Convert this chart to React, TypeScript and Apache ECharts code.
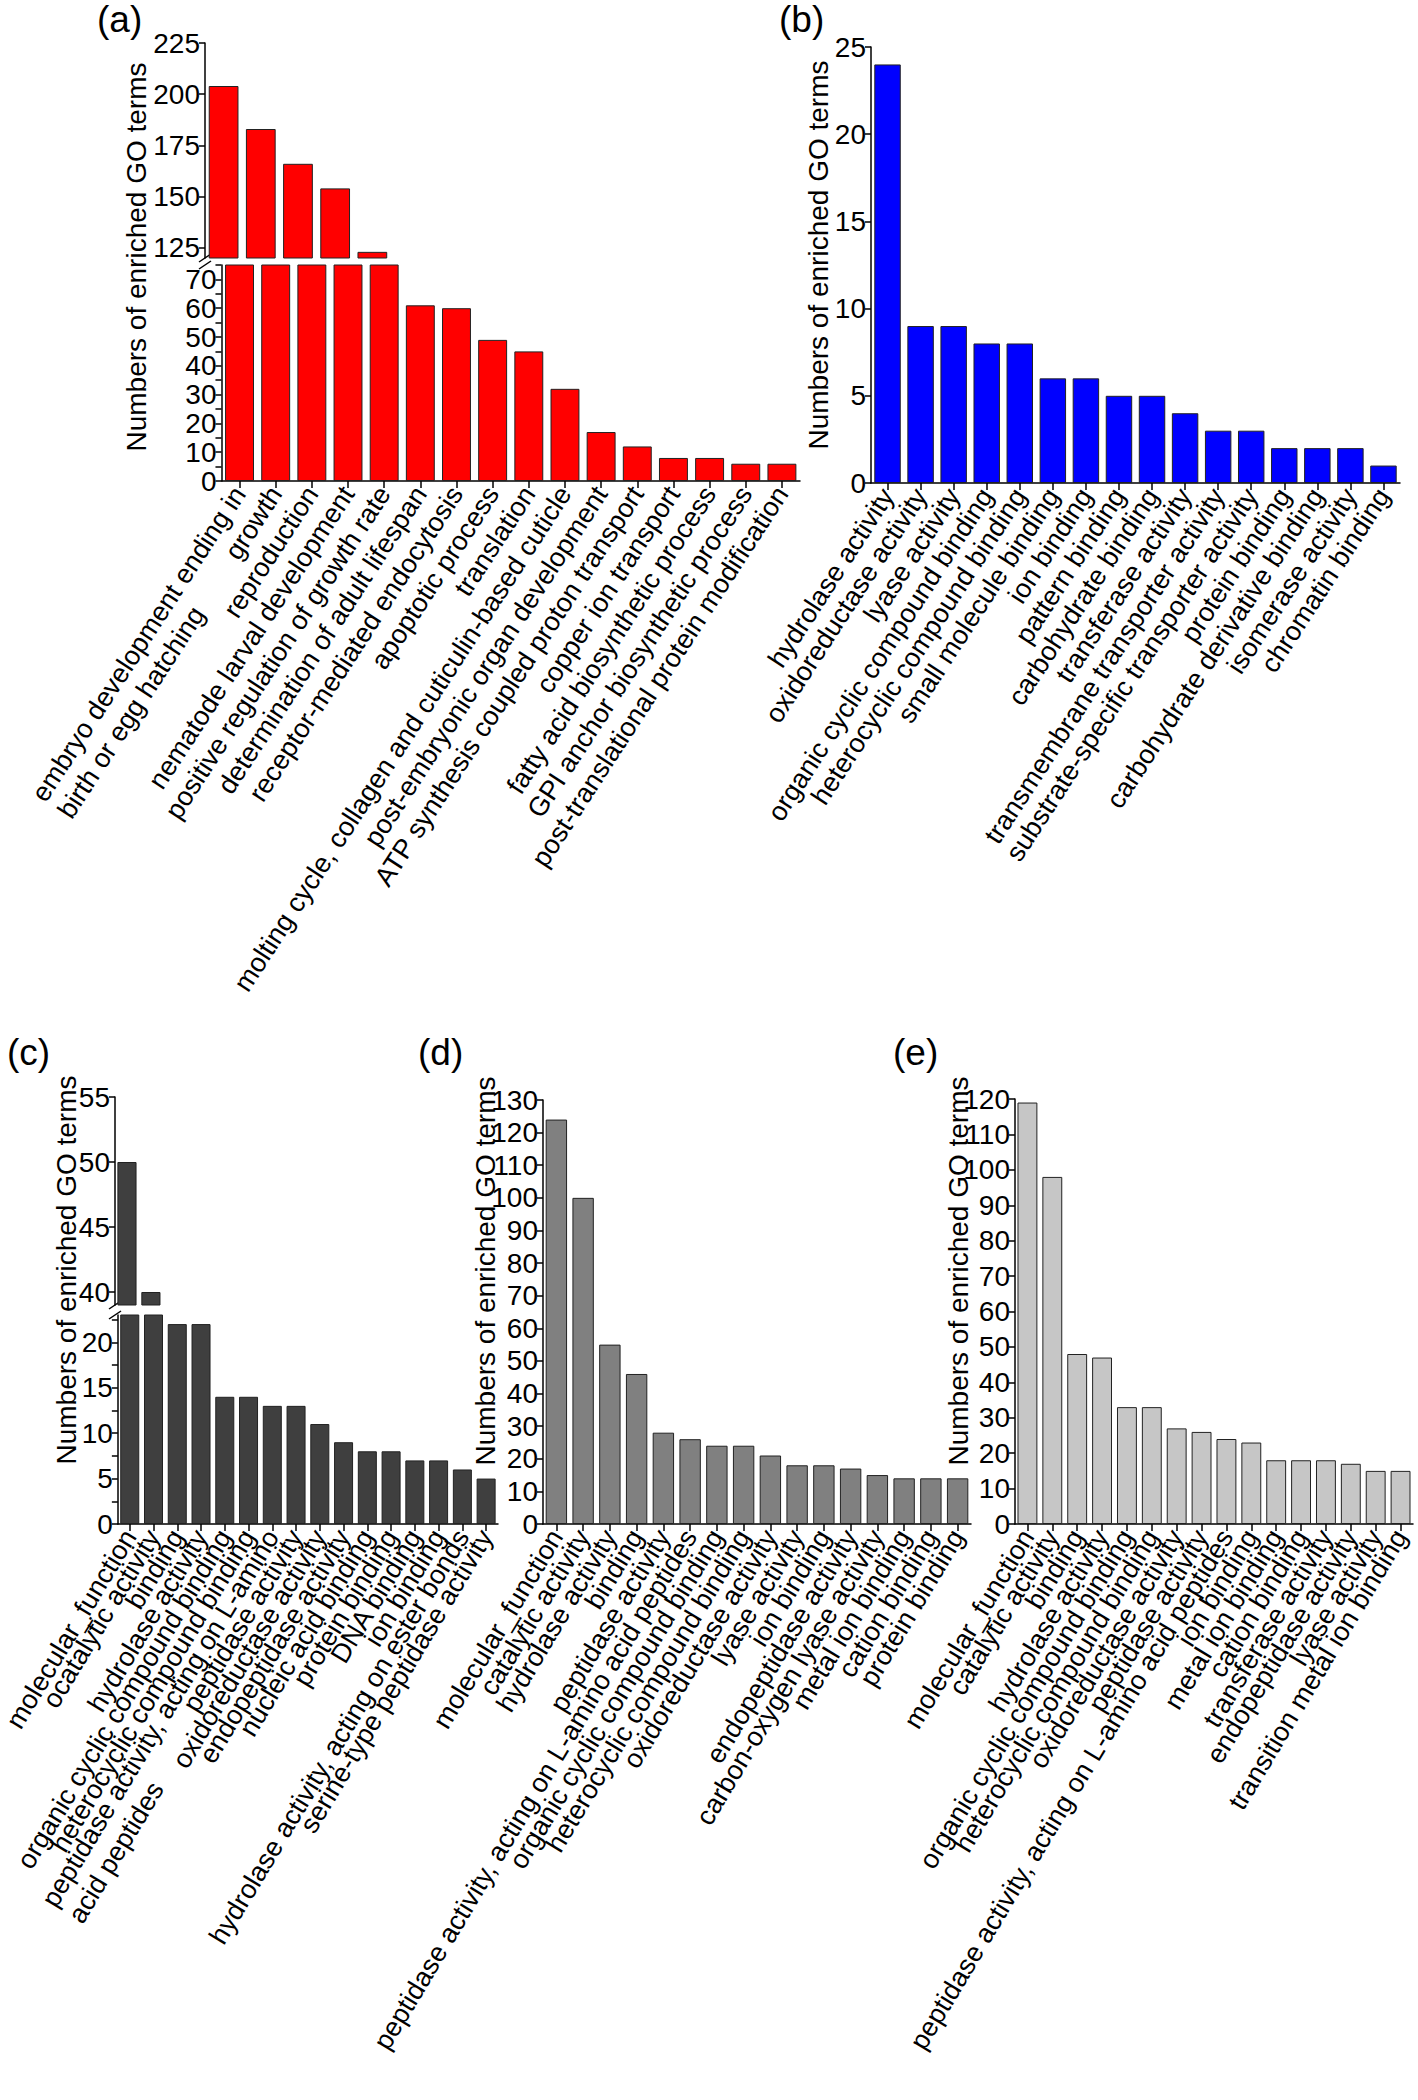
import React, { useEffect, useRef } from 'react';
import * as echarts from 'echarts';

// ---------------- DATA ----------------
const catsA = [
  'embryo development ending in\nbirth or egg hatching',
  'growth',
  'reproduction',
  'nematode larval development',
  'positive regulation of growth rate',
  'determination of adult lifespan',
  'receptor-mediated endocytosis',
  'apoptotic process',
  'translation',
  'molting cycle, collagen and cuticulin-based cuticle',
  'post-embryonic organ development',
  'ATP synthesis coupled proton transport',
  'copper ion transport',
  'fatty acid biosynthetic process',
  'GPI anchor biosynthetic process',
  'post-translational protein modification',
];
const valsA = [204, 183, 166, 154, 123, 61, 60, 49, 45, 32, 17, 12, 8, 8, 6, 6];
const ticksAUpper = [125, 150, 175, 200, 225];

const catsB = [
  'hydrolase activity',
  'oxidoreductase activity',
  'lyase activity',
  'organic cyclic compound binding',
  'heterocyclic compound binding',
  'small molecule binding',
  'ion binding',
  'pattern binding',
  'carbohydrate binding',
  'transferase activity',
  'transmembrane transporter activity',
  'substrate-specific transporter activity',
  'protein binding',
  'carbohydrate derivative binding',
  'isomerase activity',
  'chromatin binding',
];
const valsB = [24, 9, 9, 8, 8, 6, 6, 5, 5, 4, 3, 3, 2, 2, 2, 1];

const catsC = [
  'molecular_function',
  'ocatalytic activity',
  'binding',
  'hydrolase activity',
  'organic cyclic compound binding',
  'heterocyclic compound binding',
  'peptidase activity, acting on L-amino\nacid peptides',
  'peptidase activity',
  'oxidoreductase activity',
  'endopeptidase activity',
  'nucleic acid binding',
  'protein binding',
  'DNA binding',
  'ion binding',
  'hydrolase activity, acting on ester bonds',
  'serine-type peptidase activity',
];
const valsC = [50, 40, 22, 22, 14, 14, 13, 13, 11, 9, 8, 8, 7, 7, 6, 5];
const ticksCUpper = [40, 45, 50, 55];
const ticksCLower = [0, 2.5, 5, 7.5, 10, 12.5, 15, 17.5, 20, 22.5];
const labelsCLower = [0, 5, 10, 15, 20];

const catsD = [
  'molecular_function',
  'catalytic activity',
  'hydrolase activity',
  'binding',
  'peptidase activity',
  'peptidase activity, acting on L-amino acid peptides',
  'organic cyclic compound binding',
  'heterocyclic compound binding',
  'oxidoreductase activity',
  'lyase activity',
  'ion binding',
  'endopeptidase activity',
  'carbon-oxygen lyase activity',
  'metal ion binding',
  'cation binding',
  'protein binding',
];
const valsD = [124, 100, 55, 46, 28, 26, 24, 24, 21, 18, 18, 17, 15, 14, 14, 14];

const catsE = [
  'molecular_function',
  'catalytic activity',
  'binding',
  'hydrolase activity',
  'organic cyclic compound binding',
  'heterocyclic compound binding',
  'oxidoreductase activity',
  'peptidase activity',
  'peptidase activity, acting on L-amino acid peptides',
  'ion binding',
  'metal ion binding',
  'cation binding',
  'transferase activity',
  'endopeptidase activity',
  'lyase activity',
  'transition metal ion binding',
];
const valsE = [119, 98, 48, 47, 33, 33, 27, 26, 24, 23, 18, 18, 18, 17, 15, 15];

const yTitle = 'Numbers of enriched GO terms';
const panelLetters = ['(a)', '(b)', '(c)', '(d)', '(e)'];

// ---------------- STYLE / LAYOUT ----------------
const FONT = "'Liberation Sans', Arial, Helvetica, sans-serif";
const BLACK = '#000';
const grids = [
  { left: 205, top: 43, width: 595, height: 215 }, // 0 a upper
  { left: 205, top: 265, width: 595, height: 216 }, // 1 a lower
  { left: 871, top: 47, width: 529, height: 436 }, // 2 b
  { left: 115, top: 1097, width: 383, height: 208 }, // 3 c upper
  { left: 115, top: 1315, width: 383, height: 209 }, // 4 c lower
  { left: 543, top: 1100, width: 428, height: 424 }, // 5 d
  { left: 1015, top: 1099, width: 398, height: 425 }, // 6 e
];
const titlePos = [
  { x: 136, y: 257 },
  { x: 818, y: 255 },
  { x: 66, y: 1270 },
  { x: 485, y: 1271 },
  { x: 958, y: 1271 },
];
const letterPos = [
  { x: 97, y: 1 },
  { x: 779, y: 1 },
  { x: 7, y: 1034 },
  { x: 418, y: 1034 },
  { x: 893, y: 1034 },
];

const axisLineStyle = { color: BLACK, width: 1.5 };

function xAxisShown(gridIndex: number, cats: string[], rotate: number) {
  return {
    type: 'category',
    gridIndex,
    data: cats,
    axisLine: { show: true, lineStyle: axisLineStyle },
    axisTick: { show: true, alignWithLabel: true, length: 7, lineStyle: axisLineStyle },
    axisLabel: {
      interval: 0,
      rotate,
      margin: 8,
      fontSize: 27,
      fontFamily: FONT,
      color: BLACK,
      // multi-line labels: an empty first line keeps the first text line centred on its tick
      formatter: (v: string) =>
        v.indexOf('\n') >= 0
          ? ['{m| }'].concat(v.split('\n').map((s) => `{m|${s}}`)).join('\n')
          : v,
      rich: {
        m: { align: 'left', fontSize: 27, fontFamily: FONT, color: BLACK, lineHeight: 31 },
      },
    },
    splitLine: { show: false },
  };
}

function xAxisHidden(gridIndex: number, cats: string[]) {
  return { type: 'category', gridIndex, data: cats, show: false };
}

function yAxis(gridIndex: number, min: number, max: number, extra: any = {}) {
  const base: any = {
    type: 'value',
    gridIndex,
    min,
    max,
    splitLine: { show: false },
    axisLine: { show: true, lineStyle: axisLineStyle },
    axisTick: { show: true, length: 6, lineStyle: axisLineStyle },
    axisLabel: { fontSize: 28, fontFamily: FONT, color: BLACK, margin: 5 },
  };
  if (extra.interval !== undefined) base.interval = extra.interval;
  if (extra.tickValues) base.axisTick.customValues = extra.tickValues;
  if (extra.labelValues) base.axisLabel.customValues = extra.labelValues;
  if (extra.formatter) base.axisLabel.formatter = extra.formatter;
  return base;
}

function barSeries(xi: number, data: number[], color: string) {
  return {
    type: 'bar',
    xAxisIndex: xi,
    yAxisIndex: xi,
    data,
    barCategoryGap: '20%',
    clip: true,
    itemStyle: { color, borderColor: '#222', borderWidth: 1 },
    emphasis: { disabled: true },
  };
}

function slash(cx: number, cy: number) {
  return {
    type: 'line',
    shape: { x1: cx - 6, y1: cy + 4, x2: cx + 6, y2: cy - 4 },
    style: { stroke: BLACK, lineWidth: 1.5 },
  };
}

export default function App() {
  const ref = useRef<HTMLDivElement>(null);

  useEffect(() => {
    if (!ref.current) return;
    const chart = echarts.init(ref.current, undefined, { renderer: 'svg' });

    const option: any = {
      animation: false,
      backgroundColor: '#fff',
      grid: grids.map((g) => ({ ...g, containLabel: false })),
      xAxis: [
        xAxisHidden(0, catsA),
        xAxisShown(1, catsA, 57),
        xAxisShown(2, catsB, 57),
        xAxisHidden(3, catsC),
        xAxisShown(4, catsC, 59),
        xAxisShown(5, catsD, 59),
        xAxisShown(6, catsE, 59),
      ],
      yAxis: [
        yAxis(0, 120, 225, { tickValues: ticksAUpper, labelValues: ticksAUpper }),
        yAxis(1, 0, 75, {
          interval: 5,
          formatter: (v: number) => (v % 10 === 0 ? String(v) : ''),
        }),
        yAxis(2, 0, 25, { interval: 5 }),
        yAxis(3, 39, 55, { tickValues: ticksCUpper, labelValues: ticksCUpper }),
        yAxis(4, 0, 23, { tickValues: ticksCLower, labelValues: labelsCLower }),
        yAxis(5, 0, 130, { interval: 10 }),
        yAxis(6, 0, 120, { interval: 10 }),
      ],
      series: [
        barSeries(0, valsA, '#FF0000'),
        barSeries(1, valsA, '#FF0000'),
        barSeries(2, valsB, '#0000FF'),
        barSeries(3, valsC, '#3F3F3F'),
        barSeries(4, valsC, '#3F3F3F'),
        barSeries(5, valsD, '#808080'),
        barSeries(6, valsE, '#C6C6C6'),
      ],
      graphic: [
        ...titlePos.map((p) => ({
          type: 'text',
          x: p.x,
          y: p.y,
          rotation: Math.PI / 2,
          style: {
            text: yTitle,
            fontSize: 28,
            fontFamily: FONT,
            fill: BLACK,
            align: 'center',
            verticalAlign: 'middle',
            textAlign: 'center',
            textVerticalAlign: 'middle',
          },
        })),
        ...letterPos.map((p, i) => ({
          type: 'text',
          x: p.x,
          y: p.y,
          style: {
            text: panelLetters[i],
            fontSize: 37,
            fontFamily: FONT,
            fill: BLACK,
            align: 'left',
            verticalAlign: 'top',
            textAlign: 'left',
            textVerticalAlign: 'top',
          },
        })),
        slash(205, 258),
        slash(205, 265),
        slash(115, 1305),
        slash(115, 1315),
      ],
    };

    chart.setOption(option);
    return () => chart.dispose();
  }, []);

  return (
    <div
      ref={ref}
      style={{ position: 'absolute', left: 0, top: 0, width: 1418, height: 2100, background: '#fff' }}
    />
  );
}
